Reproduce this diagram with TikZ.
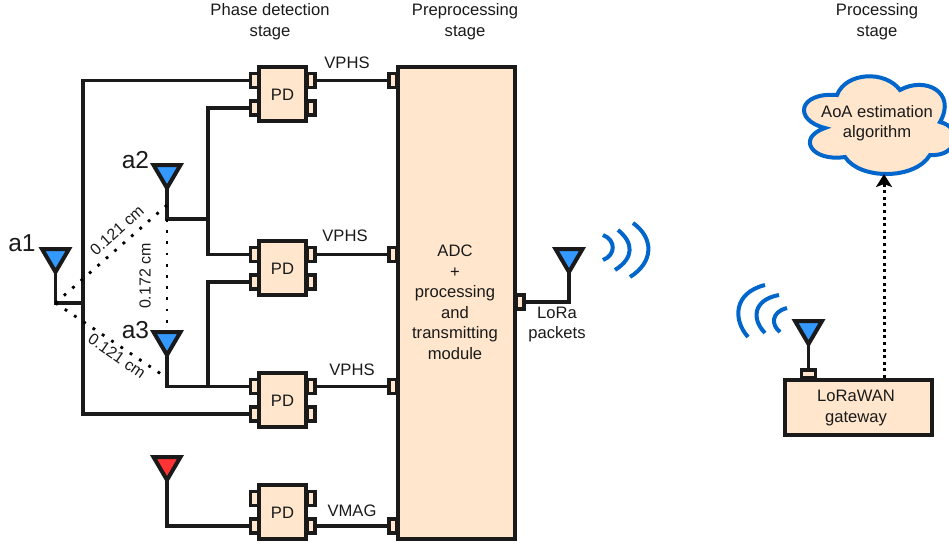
\documentclass[tikz,border=0pt]{standalone}
\usepackage{fontspec}
\setmainfont{Liberation Sans}
\usetikzlibrary{arrows.meta}
\definecolor{peach}{HTML}{FFE6CC}
\definecolor{antblue}{HTML}{3399FF}
\definecolor{antred}{HTML}{FF3333}
\definecolor{waveblue}{HTML}{0066CC}
\definecolor{ink}{HTML}{1A1A1A}
\tikzset{
  wire/.style={draw=ink,line width=3.8pt},
  block/.style={draw=ink,fill=peach,line width=4pt,inner sep=0pt},
  pin/.style={draw=ink,fill=peach,line width=3.5pt,inner sep=0pt,minimum width=8pt,minimum height=14pt},
  txt/.style={font=\fontsize{16.6}{20.5}\selectfont,text=ink,align=center,inner sep=0pt},
  wave/.style={draw=waveblue,line width=4pt},
  spacing/.style={draw=black,line width=2.8pt,dash pattern=on 2.8pt off 8.4pt},
}
\newcommand{\antenna}[4]{
  \draw[ink,line width=4pt,fill=#4] (#2-13.5,#3+2) -- (#2+13.5,#3+2) -- (#2,#3+25) -- cycle;
  \coordinate (#1) at (#2,#3+25);
}
\begin{document}
\begin{tikzpicture}[x=1pt,y=-1pt]
\useasboundingbox (0,0) rectangle (949,544);
% stage titles
\node[txt] (t1) at (270,21.5) {Phase detection\\stage};
\node[txt] (t2) at (465,21.5) {Preprocessing\\stage};
\node[txt] (t3) at (877,21.5) {Processing\\stage};
% detector blocks
\foreach \n/\y in {1/94,2/268,3/400,4/512}{
  \node[pin] (pd\n l1) at (254.5,\y-13.5) {};
  \node[pin] (pd\n l2) at (254.5,\y+14) {};
  \node[pin] (pd\n r1) at (311,\y-13.5) {};
  \node[pin] (pd\n r2) at (311,\y+14) {};
  \node[block,minimum width=47pt,minimum height=54pt] (pd\n) at (282.5,\y) {};
  \node[txt] (pd\n t) at (282.5,\y+0.5) {PD};
}
% main module
\foreach \n/\y in {1/80.5,2/254.5,3/386.5,4/526}{
  \node[pin] (in\n) at (393,\y) {};
}
\node[pin] (out) at (520,302) {};
\node[block,minimum width=117pt,minimum height=472pt] (adc) at (456.5,303) {};
\node[txt] (adct) at (455,302.5) {ADC\\+\\processing\\and\\transmitting\\module};
% antennas
\antenna{a1}{55.5}{247}{antblue}
\antenna{a2}{167}{163}{antblue}
\antenna{a3}{167}{330}{antblue}
\antenna{a4}{167}{455}{antred}
\antenna{tx}{569}{247}{antblue}
\antenna{rx}{808.5}{319}{antblue}
\coordinate (a1foot) at (55.5,303);
\coordinate (a2foot) at (167,219);
\coordinate (a3foot) at (167,386.5);
\coordinate (a1bus) at (83,303);
\coordinate (a2bus) at (208,219);
\coordinate (a3bus) at (208,386.5);
\coordinate (a2dot) at (167,205);
\coordinate (a3dot) at (167,378);
\coordinate (a3top) at (167,328);
\coordinate (txfoot) at (569,302);
% wires
\draw[wire] (a1) -- (a1foot) -- (a1bus);
\draw[wire] (pd1l1.west) -| (a1bus) |- (pd3l2.west);
\draw[wire] (a2) -- (a2foot) -- (a2bus);
\draw[wire] (pd1l2.west) -| (a2bus) |- (pd2l1.west);
\draw[wire] (a3) -- (a3foot) -- (pd3l1.west);
\draw[wire] (pd2l2.west) -| (a3bus);
\draw[wire] (a4) |- (pd4l2.west);
\draw[wire] (pd1r1.east) -- (in1.west);
\draw[wire] (pd2r1.east) -- (in2.west);
\draw[wire] (pd3r1.east) -- (in3.west);
\draw[wire] (pd4r2.east) -- (in4.west);
\draw[wire] (out.east) -- (txfoot) -- (tx);
% spacing between elements
\draw[spacing] (a1foot) -- (a2dot);
\draw[spacing] (a1foot) -- (a3dot);
\draw[spacing] (a2foot) -- (a3top);
\node[txt,rotate=42,font=\fontsize{16}{20}\selectfont] (d12) at (117,230) {0.121 cm};
\node[txt,rotate=-35,font=\fontsize{16}{20}\selectfont] (d13) at (117,356) {0.121 cm};
\node[txt,rotate=90,font=\fontsize{16}{20}\selectfont] (d23) at (145,276) {0.172 cm};
% labels
\node[txt,font=\fontsize{24.5}{26}\selectfont] (a1t) at (22,243.5) {a1};
\node[txt,font=\fontsize{24.5}{26}\selectfont] (a2t) at (135.5,160) {a2};
\node[txt,font=\fontsize{24.5}{26}\selectfont] (a3t) at (135.5,330) {a3};
\node[txt] (v1) at (347,62.5) {VPHS};
\node[txt] (v2) at (345,235.5) {VPHS};
\node[txt] (v3) at (352,369.5) {VPHS};
\node[txt] (v4) at (352,510.5) {VMAG};
\node[txt] (lora) at (557,324.5) {LoRa\\packets};
% radio waves
\draw[wave] (603,235) .. controls (616,240) and (616,255) .. (603,260);
\draw[wave] (618,230) .. controls (634,243) and (634,258) .. (615,270);
\draw[wave] (633,223) .. controls (654,238) and (654,262) .. (630,277);
\draw[wave] (787,308) .. controls (771,312) and (771,325) .. (780,332);
\draw[wave] (779,295) .. controls (752,300) and (752,320) .. (765,333);
\draw[wave] (765,285) .. controls (733,293) and (733,320) .. (748,337);
% gateway
\node[pin,minimum width=14pt,minimum height=8pt] (gwpin) at (808.5,374) {};
\node[block,minimum width=147pt,minimum height=55pt] (gw) at (858.5,407.5) {};
\node[txt] (gwt) at (856,408) {LoRaWAN\\gateway};
\draw[wire] (rx) -- (gwpin.north);
% cloud
\draw[draw=waveblue,fill=peach,line width=4pt] (837,95)
  .. controls (846,72) and (885,70) .. (900,90)
  .. controls (925,76) and (957,92) .. (940,122)
  .. controls (964,128) and (958,157) .. (930,155)
  .. controls (915,180) and (860,180) .. (845,157)
  .. controls (812,162) and (796,138) .. (825,128)
  .. controls (793,120) and (798,92) .. (837,95) -- cycle;
\node[txt] (cloudt) at (877,123) {AoA estimation\\algorithm};
% uplink arrow
\coordinate (gwtop) at (884,378);
\coordinate (cloudfoot) at (884,174);
\draw[draw=black,line width=3pt,dash pattern=on 3pt off 3.6pt,-{Stealth[length=13pt,width=16pt,inset=3pt,fill=black]}] (gwtop) -- (cloudfoot);
\end{tikzpicture}
\end{document}
